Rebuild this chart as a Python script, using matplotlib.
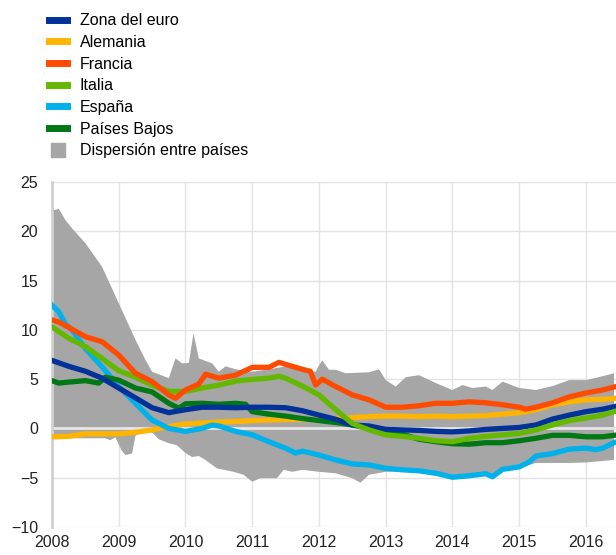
import matplotlib
matplotlib.use('Agg')
import matplotlib.pyplot as plt
from matplotlib.lines import Line2D

plt.rcParams['font.family'] = ['Liberation Sans', 'DejaVu Sans']

# series (decimal year, % value)
q = [2008.0, 2008.25, 2008.5, 2008.75, 2009.0, 2009.25, 2009.5, 2009.75,
     2010.0, 2010.25, 2010.5, 2010.75, 2011.0, 2011.25, 2011.5, 2011.75,
     2012.0, 2012.25, 2012.5, 2012.75, 2013.0, 2013.25, 2013.5, 2013.75,
     2014.0, 2014.25, 2014.5, 2014.75, 2015.0, 2015.25, 2015.5, 2015.75,
     2016.0, 2016.25, 2016.42]

euro = [6.9, 6.3, 5.8, 5.1, 4.1, 3.1, 2.1, 1.6, 1.9, 2.15, 2.15, 2.1, 2.15,
        2.15, 2.1, 1.8, 1.35, 0.93, 0.35, 0.25, -0.1, -0.15, -0.2, -0.3,
        -0.35, -0.25, -0.1, 0.0, 0.1, 0.35, 0.95, 1.35, 1.7, 1.95, 2.2]

alemania = [-0.85, -0.8, -0.55, -0.55, -0.55, -0.4, -0.15, 0.2, 0.45, 0.55,
            0.65, 0.7, 0.8, 0.85, 0.9, 0.9, 0.9, 1.0, 1.1, 1.2, 1.25, 1.25,
            1.2, 1.25, 1.2, 1.25, 1.3, 1.45, 1.6, 1.9, 2.4, 2.7, 2.9, 2.95, 3.05]

francia_x = [2008.0, 2008.1, 2008.25, 2008.5, 2008.75, 2009.0, 2009.25, 2009.5,
             2009.75, 2009.85, 2010.0, 2010.2, 2010.3, 2010.5, 2010.75, 2011.0,
             2011.25, 2011.4, 2011.5, 2011.75, 2011.87, 2011.95, 2012.05, 2012.25,
             2012.5, 2012.75, 2013.0, 2013.25, 2013.5, 2013.75, 2014.0, 2014.25,
             2014.5, 2014.75, 2015.0, 2015.1, 2015.25, 2015.5, 2015.75, 2016.0,
             2016.25, 2016.42]
francia = [11.0, 10.8, 10.25, 9.3, 8.8, 7.45, 5.6, 4.75, 3.4, 3.05, 3.9, 4.5,
           5.5, 5.1, 5.4, 6.2, 6.2, 6.7, 6.5, 6.0, 5.8, 4.4, 5.0, 4.25, 3.4,
           2.9, 2.15, 2.15, 2.3, 2.55, 2.55, 2.7, 2.6, 2.4, 2.15, 1.95, 2.15,
           2.6, 3.2, 3.6, 3.9, 4.2]

italia_x = [2008.0, 2008.25, 2008.5, 2008.75, 2009.0, 2009.25, 2009.5, 2009.75,
            2010.0, 2010.25, 2010.5, 2010.75, 2011.0, 2011.25, 2011.4, 2011.5,
            2011.75, 2012.0, 2012.25, 2012.5, 2012.75, 2013.0, 2013.25, 2013.5,
            2013.75, 2014.0, 2014.25, 2014.5, 2014.75, 2015.0, 2015.25, 2015.5,
            2015.75, 2016.0, 2016.25, 2016.42]
italia = [10.3, 9.15, 8.3, 7.1, 5.85, 5.2, 4.4, 3.75, 3.75, 4.1, 4.4, 4.8,
          4.97, 5.1, 5.3, 5.1, 4.3, 3.4, 1.9, 0.5, -0.15, -0.65, -0.8, -1.0,
          -1.25, -1.35, -1.0, -0.8, -0.65, -0.5, -0.15, 0.35, 0.8, 1.05, 1.35, 1.7]

espana_x = [2008.0, 2008.1, 2008.2, 2008.3, 2008.5, 2008.75, 2009.0, 2009.25,
            2009.5, 2009.75, 2010.0, 2010.25, 2010.4, 2010.5, 2010.75, 2011.0,
            2011.25, 2011.5, 2011.65, 2011.75, 2012.0, 2012.25, 2012.5, 2012.75,
            2013.0, 2013.25, 2013.5, 2013.75, 2014.0, 2014.25, 2014.5, 2014.6,
            2014.75, 2015.0, 2015.15, 2015.25, 2015.5, 2015.75, 2016.0, 2016.15,
            2016.25, 2016.42]
espana = [12.5, 11.85, 10.6, 10.0, 8.1, 6.25, 4.25, 2.55, 0.85, 0.0, -0.3, 0.0,
          0.35, 0.25, -0.3, -0.65, -1.35, -2.0, -2.5, -2.3, -2.7, -3.2, -3.6,
          -3.7, -4.05, -4.2, -4.3, -4.55, -4.95, -4.8, -4.6, -4.9, -4.15, -3.9,
          -3.4, -2.8, -2.55, -2.1, -2.0, -2.15, -2.0, -1.45]

pb_x = [2008.0, 2008.1, 2008.25, 2008.5, 2008.7, 2008.8, 2009.0, 2009.25,
        2009.5, 2009.75, 2009.9, 2010.0, 2010.25, 2010.5, 2010.75, 2010.9,
        2011.0, 2011.25, 2011.5, 2011.75, 2012.0, 2012.25, 2012.5, 2012.75,
        2013.0, 2013.25, 2013.5, 2013.75, 2014.0, 2014.25, 2014.5, 2014.75,
        2015.0, 2015.25, 2015.5, 2015.75, 2016.0, 2016.25, 2016.42]
paises_bajos = [4.85, 4.6, 4.7, 4.85, 4.6, 5.2, 4.9, 4.1, 3.7, 2.55, 2.05, 2.5,
                2.55, 2.45, 2.55, 2.45, 1.7, 1.45, 1.25, 1.0, 0.8, 0.6, 0.35,
                0.0, -0.35, -0.6, -1.1, -1.35, -1.55, -1.6, -1.45, -1.45, -1.25,
                -1.0, -0.7, -0.7, -0.85, -0.85, -0.7]

# dispersion band (max / min across countries)
up_x = [2008.0, 2008.07, 2008.1, 2008.2, 2008.3, 2008.5, 2008.75, 2009.0,
        2009.25, 2009.4, 2009.5, 2009.75, 2009.85, 2009.95, 2010.05, 2010.12,
        2010.2, 2010.4, 2010.5, 2010.6, 2010.75, 2011.0, 2011.25, 2011.5,
        2011.75, 2011.95, 2012.0, 2012.05, 2012.15, 2012.25, 2012.4, 2012.75,
        2012.9, 2013.0, 2013.15, 2013.3, 2013.5, 2013.75, 2014.0, 2014.15,
        2014.3, 2014.5, 2014.6, 2014.75, 2015.0, 2015.25, 2015.5, 2015.75,
        2016.0, 2016.25, 2016.42]
dispersion_max = [22.15, 22.2, 22.3, 21.15, 20.3, 18.8, 16.4, 12.7, 9.0, 6.95,
                  5.75, 5.1, 7.1, 6.6, 6.65, 9.65, 7.1, 6.6, 5.75, 6.3, 6.0,
                  5.75, 6.0, 6.3, 6.0, 5.75, 6.4, 6.9, 5.95, 5.95, 5.6, 5.7,
                  6.0, 4.9, 4.25, 5.2, 5.4, 4.6, 3.9, 4.4, 4.1, 4.25, 3.9, 4.75,
                  4.1, 3.9, 4.3, 4.9, 4.9, 5.3, 5.6]

lo_x = [2008.0, 2008.5, 2008.8, 2008.87, 2008.95, 2009.04, 2009.1, 2009.2,
        2009.25, 2009.35, 2009.5, 2009.6, 2009.75, 2009.87, 2010.0, 2010.1,
        2010.2, 2010.3, 2010.47, 2010.72, 2010.87, 2011.0, 2011.12, 2011.37,
        2011.47, 2011.6, 2011.75, 2012.0, 2012.25, 2012.5, 2012.62, 2012.75,
        2013.0, 2013.25, 2013.5, 2013.75, 2014.0, 2014.25, 2014.5, 2014.6,
        2014.75, 2015.0, 2015.15, 2015.25, 2015.5, 2015.75, 2016.0, 2016.25,
        2016.42]
dispersion_min = [-1.0, -1.0, -1.0, -1.2, -0.9, -2.2, -2.7, -2.55, -0.75, -0.2,
                  -0.4, -1.1, -1.5, -1.7, -2.5, -2.9, -2.8, -3.2, -4.05, -4.4,
                  -4.7, -5.4, -5.05, -5.05, -4.2, -4.4, -4.2, -4.4, -4.55,
                  -5.05, -5.5, -4.7, -4.4, -4.35, -4.45, -4.7, -5.1, -4.95,
                  -4.75, -5.05, -4.3, -4.05, -3.7, -3.5, -3.5, -3.5, -3.45,
                  -3.3, -3.2]

yticks = [-10, -5, 0, 5, 10, 15, 20, 25]
xticks = [2008, 2009, 2010, 2011, 2012, 2013, 2014, 2015, 2016]

c_euro = '#003299'
c_de = '#FFB400'
c_fr = '#FF4B00'
c_it = '#65B800'
c_es = '#00B1EA'
c_nl = '#007816'
c_band = '#A6A6A6'

fig = plt.figure(figsize=(6.16, 5.55), dpi=100)
ax = fig.add_axes([52 / 616, 1 - 527 / 555, 1 - 52 / 616, (527 - 182) / 555])

# band drawn as one polygon: upper edge forward, lower edge back
poly_x = up_x + lo_x[::-1]
poly_y = dispersion_max + dispersion_min[::-1]
ax.fill(poly_x, poly_y, color=c_band, lw=0, zorder=1)
ax.axhline(0, color='#e6e6e6', lw=2, zorder=2)

lw = 3.8
ax.plot(q, alemania, color=c_de, lw=lw, zorder=3)
ax.plot(espana_x, espana, color=c_es, lw=lw, zorder=4)
ax.plot(pb_x, paises_bajos, color=c_nl, lw=lw, zorder=5)
ax.plot(q, euro, color=c_euro, lw=lw, zorder=6)
ax.plot(italia_x, italia, color=c_it, lw=lw, zorder=7)
ax.plot(francia_x, francia, color=c_fr, lw=lw, zorder=8)

ax.set_xlim(2008, 2016.45)
ax.set_ylim(-10, 25)
ax.set_yticks(yticks)
ax.set_xticks(xticks)
ax.set_xticklabels([str(t) for t in xticks])
ax.tick_params(length=0, labelsize=11.5, colors='#222222', pad=6)
ax.tick_params(axis='y', pad=10)
ax.grid(True, color='#e3e3e3', lw=1)
ax.set_axisbelow(True)
for s in ['top', 'right', 'bottom']:
    ax.spines[s].set_visible(False)
ax.spines['left'].set_color('#d0d0d0')
ax.spines['left'].set_linewidth(2)

handles = [Line2D([], [], color=c_euro, lw=5),
           Line2D([], [], color=c_de, lw=5),
           Line2D([], [], color=c_fr, lw=5),
           Line2D([], [], color=c_it, lw=5),
           Line2D([], [], color=c_es, lw=5),
           Line2D([], [], color=c_nl, lw=5),
           Line2D([], [], color=c_band, marker='s', markersize=10, ls='none')]
labels = ['Zona del euro', 'Alemania', 'Francia', 'Italia', 'España',
          'Países Bajos', 'Dispersión entre países']
fig.legend(handles, labels, loc='upper left', bbox_to_anchor=(46 / 616, 1 - 10 / 555),
           frameon=False, fontsize=11.5, handlelength=1.1, handletextpad=0.8,
           labelspacing=0.42, borderaxespad=0, borderpad=0.2)

fig.savefig('out.png', dpi=100)
